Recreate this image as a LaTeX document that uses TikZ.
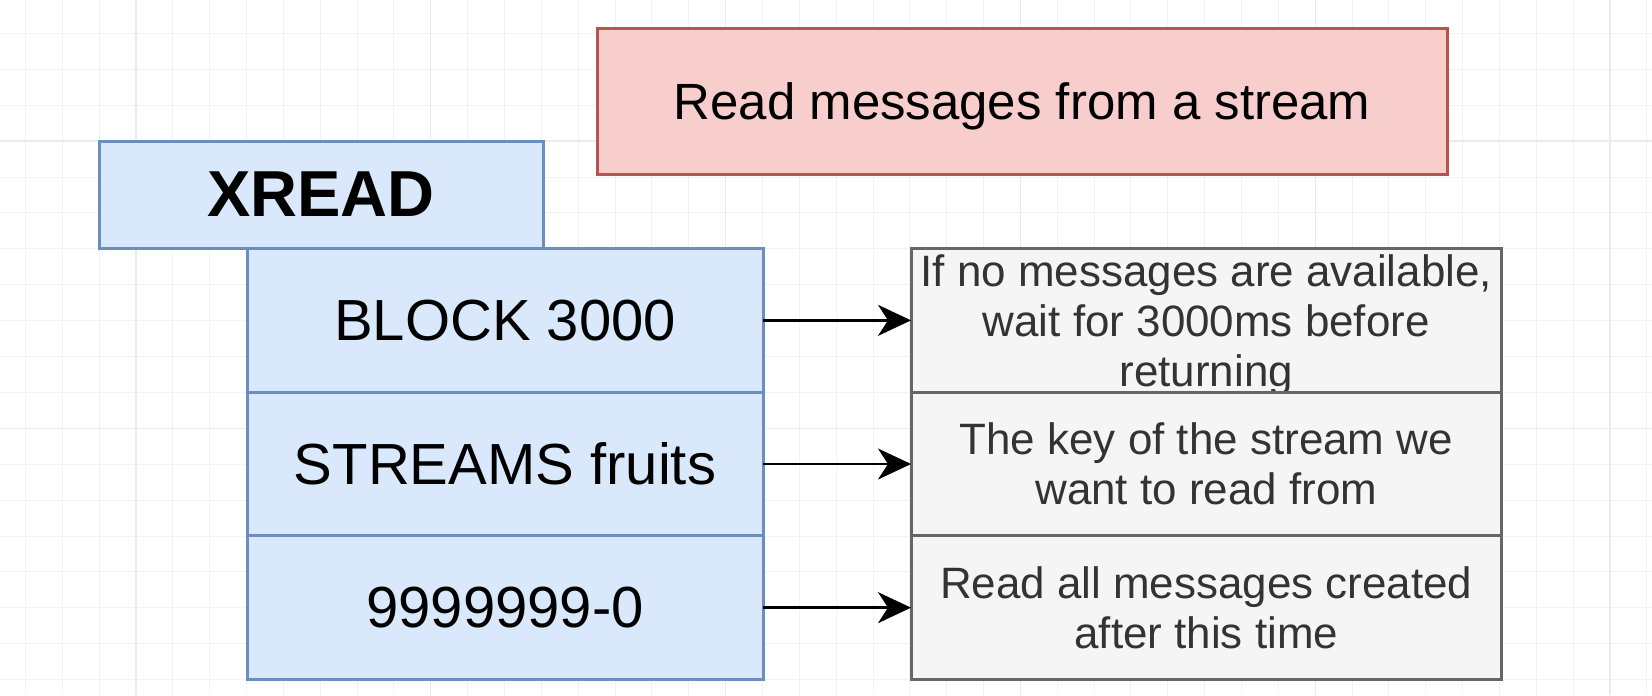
\documentclass[tikz,border=0pt]{standalone}
\usepackage{fontspec}
\setmainfont{Liberation Sans}
\usetikzlibrary{positioning,arrows.meta}

\definecolor{cmdfill}{HTML}{DAE8FC}
\definecolor{cmdline}{HTML}{6C8EBF}
\definecolor{notefill}{HTML}{F5F5F5}
\definecolor{noteline}{HTML}{666666}
\definecolor{notetext}{HTML}{333333}
\definecolor{headfill}{HTML}{F8CECC}
\definecolor{headline}{HTML}{B85450}

\tikzstyle{cmdbox} = [draw=cmdline, fill=cmdfill, rectangle, line width=0.06cm,
    outer sep=0pt, inner sep=0pt]
\tikzstyle{xreadbox} = [cmdbox, minimum width=8.88cm, minimum height=2.14cm,
    font=\fontsize{37}{42}\selectfont\bfseries]
\tikzstyle{argbox} = [cmdbox, minimum width=10.32cm, minimum height=2.873cm,
    font=\fontsize{33}{38}\selectfont]
\tikzstyle{notebox} = [draw=noteline, fill=notefill, rectangle, line width=0.06cm,
    outer sep=0pt, inner sep=0pt, minimum width=11.81cm, minimum height=2.873cm,
    align=center, text=notetext, text depth=-3.6pt, font=\fontsize{25}{28.5}\selectfont]
\tikzstyle{headbox} = [draw=headline, fill=headfill, rectangle, line width=0.06cm,
    outer sep=0pt, inner sep=0pt, minimum width=17cm, minimum height=2.91cm,
    text depth=-3.8pt, font=\fontsize{29}{34}\selectfont]
\tikzstyle{link} = [-{Stealth[length=0.66cm,width=0.62cm,inset=0.2cm]}, line width=0.05cm]
\tikzstyle{minorgrid} = [draw=black!5, line width=0.02cm]
\tikzstyle{majorgrid} = [draw=black!8, line width=0.025cm]

\begin{document}
\begin{tikzpicture}
      \useasboundingbox (0,0) rectangle (33.04,-13.9);
      \clip (0,0) rectangle (33.04,-13.9);
      \fill[white] (0,0) rectangle (33.04,-13.9);

      % background grid
      \foreach \i in {0,...,44}
        \draw[minorgrid] ({0.509+0.737*\i},0) -- ({0.509+0.737*\i},-13.9);
      \foreach \j in {0,...,18}
        \draw[minorgrid] (0,{-0.668-0.718*\j}) -- (33.04,{-0.668-0.718*\j});
      \foreach \i in {3,11,...,43}
        \draw[majorgrid] ({0.509+0.737*\i},0) -- ({0.509+0.737*\i},-13.9);
      \foreach \j in {3,11}
        \draw[majorgrid] (0,{-0.668-0.718*\j}) -- (33.04,{-0.668-0.718*\j});

      \node[headbox] at (20.44,-2.025) (head) {Read messages from a stream};
      \node[xreadbox] at (6.42,-3.89) (xread) {XREAD};

      \node[argbox] at (10.10,-6.407) (block) {BLOCK 3000};
      \node[argbox, below=0pt of block] (streams) {STREAMS fruits};
      \node[argbox, below=0pt of streams] (msgid) {9999999-0};

      \node[notebox, text depth=-1.9pt] at (24.125,-6.407) (blocknote) {If no messages are available,\\wait for 3000ms before\\returning};
      \node[notebox, below=0pt of blocknote] (streamsnote) {The key of the stream we\\want to read from};
      \node[notebox, below=0pt of streamsnote] (msgidnote) {Read all messages created\\after this time};

      \draw [link] (block) -- (blocknote);
      \draw [link] (streams) -- (streamsnote);
      \draw [link] (msgid) -- (msgidnote);
    \end{tikzpicture}
\end{document}
